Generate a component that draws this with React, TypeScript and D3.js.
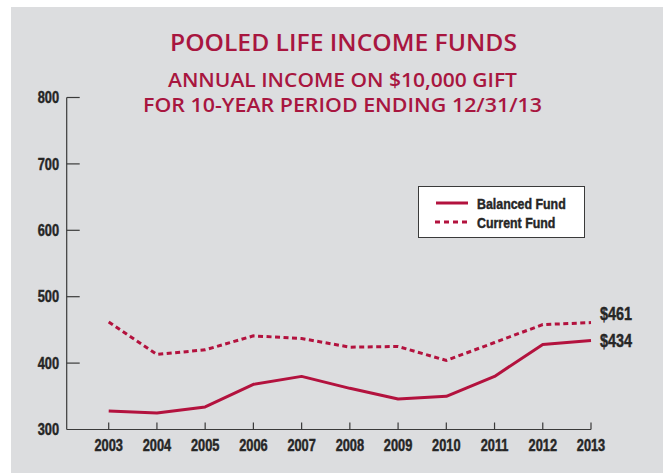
import * as d3 from 'd3';

// values
const years = ['2003', '2004', '2005', '2006', '2007', '2008', '2009', '2010', '2011', '2012', '2013'];
const balancedFund = [328, 325, 334, 368, 380, 362, 346, 350, 380, 428, 434];
const currentFund = [462, 413, 420, 441, 437, 424, 425, 404, 431, 458, 461];
const yTicks = [300, 400, 500, 600, 700, 800];
const titleLines = ['POOLED LIFE INCOME FUNDS', 'ANNUAL INCOME ON $10,000 GIFT', 'FOR 10-YEAR PERIOD ENDING 12/31/13'];
const legendLabels = ['Balanced Fund', 'Current Fund'];
const endLabels = ['$461', '$434'];

const W = 670;
const H = 473;
const RED = '#b3123e';
const TITLE_RED = '#a8163f';
const AXIS = '#3a3a3a';
const BG = '#dcdddf';
const TEXT = '#262626';
const TITLE_FONT = '"Open Sans", "Noto Sans", sans-serif';

// condensed bold look: Liberation Sans bold squeezed horizontally
function Narrow({ x, y, anchor = 'start', size = 16, children }:
  { x: number; y: number; anchor?: string; size?: number; children: any }) {
  return (
    <g transform={`translate(${x},${y}) scale(0.8,1)`}>
      <text dy="0.36em" textAnchor={anchor} fill={TEXT} stroke={TEXT} strokeWidth={0.45}
        fontFamily='"Liberation Sans", Arial, sans-serif' fontWeight="bold" fontSize={size}>{children}</text>
    </g>
  );
}

function App() {
  const x = d3.scalePoint<string>().domain(years).range([108.7, 591]);
  const y = d3.scaleLinear().domain([300, 800]).range([429.5, 97.5]);
  const axisLeft = 66.7;

  const line = d3.line<number>()
    .x((_, i) => x(years[i]) as number)
    .y(d => y(d));

  const last = years[years.length - 1];

  return (
    <svg width={W} height={H} style={{ position: 'absolute', left: 0, top: 0 }}>
      <rect x={0} y={0} width={W} height={H} fill="#fff" />
      <rect x={11} y={7} width={652} height={H - 7} fill={BG} />

      {/* titles */}
      <text x={343.5} y={51} textAnchor="middle" fill={TITLE_RED}
        fontFamily={TITLE_FONT} fontWeight={600} fontSize={22.5}
        textLength={347} lengthAdjust="spacingAndGlyphs">{titleLines[0]}</text>
      <text x={342.5} y={86.5} textAnchor="middle" fill={TITLE_RED}
        fontFamily={TITLE_FONT} fontWeight={600} fontSize={19.5}
        textLength={349} lengthAdjust="spacingAndGlyphs">{titleLines[1]}</text>
      <text x={342.5} y={111.5} textAnchor="middle" fill={TITLE_RED}
        fontFamily={TITLE_FONT} fontWeight={600} fontSize={19.5}
        textLength={399} lengthAdjust="spacingAndGlyphs">{titleLines[2]}</text>

      {/* y axis */}
      <line x1={axisLeft} x2={axisLeft} y1={y(800)} y2={y(300)} stroke={AXIS} strokeWidth={1.2} />
      {yTicks.map(t => (
        <g key={t}>
          {t > 300 && <line x1={axisLeft} x2={axisLeft + 13} y1={y(t)} y2={y(t)} stroke={AXIS} strokeWidth={1.2} />}
          <Narrow x={59} y={y(t)} anchor="end">{t}</Narrow>
        </g>
      ))}

      {/* x axis */}
      <line x1={axisLeft} x2={x(last)} y1={y(300)} y2={y(300)} stroke={AXIS} strokeWidth={1.2} />
      {years.map(yr => (
        <g key={yr}>
          <line x1={x(yr)} x2={x(yr)} y1={y(300) - 7} y2={y(300)} stroke={AXIS} strokeWidth={1.2} />
          <Narrow x={x(yr) as number} y={445} anchor="middle">{yr}</Narrow>
        </g>
      ))}

      {/* series */}
      <path d={line(currentFund) ?? ''} fill="none" stroke={RED} strokeWidth={3}
        strokeDasharray="5,3.5" />
      <path d={line(balancedFund) ?? ''} fill="none" stroke={RED} strokeWidth={3}
        strokeLinejoin="round" />

      {/* end labels */}
      <Narrow x={600} y={y(currentFund[currentFund.length - 1]) - 9} size={18}>{endLabels[0]}</Narrow>
      <Narrow x={600} y={y(balancedFund[balancedFund.length - 1])} size={18}>{endLabels[1]}</Narrow>

      {/* legend */}
      <rect x={418.5} y={186.5} width={166} height={51} fill="#fff" stroke={AXIS} strokeWidth={1} />
      <line x1={436} x2={468} y1={203} y2={203} stroke={RED} strokeWidth={3} />
      <line x1={435} x2={468} y1={222} y2={222} stroke={RED} strokeWidth={3} strokeDasharray="5,4" />
      <Narrow x={477} y={203} size={15.5}>{legendLabels[0]}</Narrow>
      <Narrow x={477} y={222} size={15.5}>{legendLabels[1]}</Narrow>
    </svg>
  );
}

export default App;
